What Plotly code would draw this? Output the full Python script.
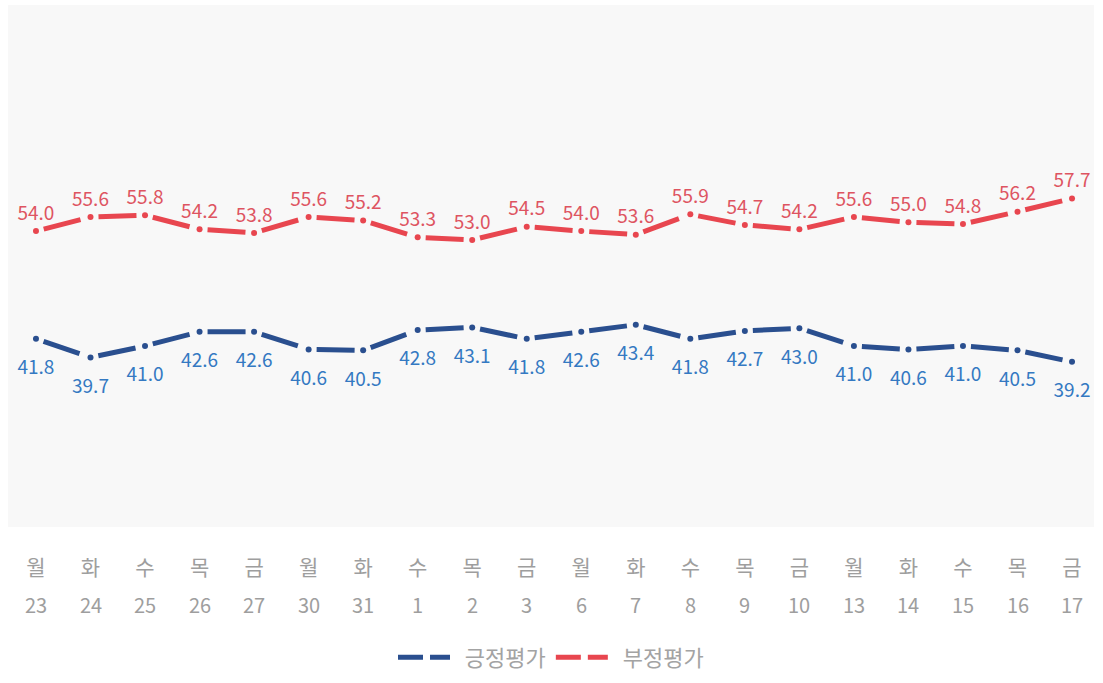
import plotly.graph_objects as go

# ---- data ----
days = ["월", "화", "수", "목", "금", "월", "화", "수", "목", "금",
        "월", "화", "수", "목", "금", "월", "화", "수", "목", "금"]
dates = ["23", "24", "25", "26", "27", "30", "31", "1", "2", "3",
         "6", "7", "8", "9", "10", "13", "14", "15", "16", "17"]
positive = [41.8, 39.7, 41.0, 42.6, 42.6, 40.6, 40.5, 42.8, 43.1, 41.8,
            42.6, 43.4, 41.8, 42.7, 43.0, 41.0, 40.6, 41.0, 40.5, 39.2]
negative = [54.0, 55.6, 55.8, 54.2, 53.8, 55.6, 55.2, 53.3, 53.0, 54.5,
            54.0, 53.6, 55.9, 54.7, 54.2, 55.6, 55.0, 54.8, 56.2, 57.7]
series_names = ["긍정평가", "부정평가"]

# ---- styles ----
FONT = "Noto Sans CJK KR, Noto Sans, sans-serif"
BLUE_LINE = "#2a4f8f"
BLUE_TEXT = "#3479c2"
RED_LINE = "#e8464f"
RED_TEXT = "#de5461"
GRAY = "#9e9e9e"

x = list(range(len(days)))


def segments(vals):
    sx, sy = [], []
    for i in range(len(vals) - 1):
        sx += [x[i], x[i + 1], None]
        sy += [vals[i], vals[i + 1], None]
    return sx, sy


fig = go.Figure()

for vals, lc, tc, tpos, tsize in [
    (negative, RED_LINE, RED_TEXT, "top center", 9),
    (positive, BLUE_LINE, BLUE_TEXT, "bottom center", 32),
]:
    sx, sy = segments(vals)
    fig.add_trace(go.Scatter(
        x=sx, y=sy, mode="lines", showlegend=False, hoverinfo="skip",
        line=dict(color=lc, width=5, dash="0px,8px,38px,200px"),
    ))
    fig.add_trace(go.Scatter(
        x=x, y=vals, mode="markers", showlegend=False,
        marker=dict(color=lc, size=6),
    ))
    fig.add_trace(go.Scatter(
        x=x, y=vals, mode="markers+text", showlegend=False, hoverinfo="skip",
        text=[f"{v:.1f}" for v in vals], textposition=tpos,
        textfont=dict(family=FONT, size=19, color=tc),
        marker=dict(size=tsize, opacity=0), cliponaxis=False,
    ))

# legend entries
for name, lc in zip(series_names, [BLUE_LINE, RED_LINE]):
    fig.add_trace(go.Scatter(
        x=[None], y=[None], mode="lines", name="  " + name,
        line=dict(color=lc, width=5, dash="25px,7px"),
    ))

# date row under the weekday tick labels
for xi, d in zip(x, dates):
    fig.add_annotation(
        x=xi, y=0, xref="x", yref="paper", text=d, showarrow=False,
        yanchor="middle", yshift=-77,
        font=dict(family=FONT, size=20, color=GRAY),
    )

fig.update_layout(
    width=1103, height=683,
    margin=dict(l=8, r=9, t=5, b=145),
    paper_bgcolor="white", plot_bgcolor="#f8f8f8",
    font=dict(family=FONT, color=GRAY),
    showlegend=True,
    legend=dict(
        orientation="h", x=0.5, xanchor="center", y=-0.25, yanchor="middle",
        font=dict(family=FONT, size=22, color="#a3a3a3"),
        itemwidth=52, bgcolor="rgba(0,0,0,0)",
    ),
    xaxis=dict(
        range=[-0.513, 19.403], tickvals=x, ticktext=days,
        showgrid=False, zeroline=False, showline=False, ticks="",
        tickfont=dict(family=FONT, size=21, color=GRAY),
        ticklabelstandoff=26,
    ),
    yaxis=dict(
        range=[20.5, 79.6], showgrid=False, zeroline=False, showline=False,
        showticklabels=False, ticks="",
    ),
)

fig.write_html(
    "out.html",
    config={"displayModeBar": False},
    post_script="document.body.style.margin='0';"
                "document.documentElement.style.overflow='hidden';",
)
